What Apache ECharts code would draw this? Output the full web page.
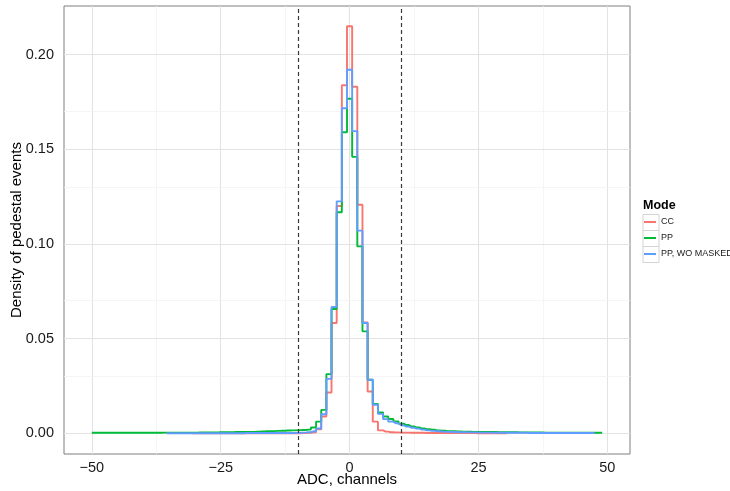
<!DOCTYPE html>
<html>
<head>
<meta charset="utf-8">
<script src="https://cdn.jsdelivr.net/npm/echarts@6/dist/echarts.min.js"></script>
<style>html,body{margin:0;padding:0;background:#fff;}#c{width:730px;height:491px;}</style>
</head>
<body>
<div id="c"></div>
<script>
// bin centres (ADC channels)
var bins = [-50,-49,-48,-47,-46,-45,-44,-43,-42,-41,
-40,-39,-38,-37,-36,-35,-34,-33,-32,-31,
-30,-29,-28,-27,-26,-25,-24,-23,-22,-21,
-20,-19,-18,-17,-16,-15,-14,-13,-12,-11,
-10,-9,-8,-7,-6,-5,-4,-3,-2,-1,
0,1,2,3,4,5,6,7,8,9,
10,11,12,13,14,15,16,17,18,19,
20,21,22,23,24,25,26,27,28,29,
30,31,32,33,34,35,36,37,38,39,
40,41,42,43,44,45,46,47,48,49];

var seriesNames = ['CC', 'PP', 'PP, WO MASKED'];

var ccValues = [null,null,null,null,null,null,null,null,null,null,
null,null,null,null,null,null,null,null,null,null,
0,0,0,0,0,0,0,0,0,0,
0,0,0,0,0,0,0,0,0,0,
0.0000,0.0001,0.0002,0.0005,0.0020,0.0088,0.0215,0.0582,0.1200,0.1838,
0.2150,0.1830,0.1207,0.0585,0.0220,0.0061,0.0015,0.0008,0.0005,0.0004,
0.0003,0.0003,0.0002,0.0002,0.0002,0.0001,0.0001,0.0001,0.0001,0.0001,
0.0001,0.0001,0.0001,0.0001,0.0001,0,0,0,0,0,
0,null,null,null,null,null,null,null,null,null,
null,null,null,null,null,null,null,null,null,null];

var ppValues = [0.0002,0.0002,0.0002,0.0002,0.0002,0.0002,0.0002,0.0002,0.0002,0.0002,
0.0002,0.0002,0.0002,0.0002,0.0003,0.0003,0.0003,0.0003,0.0003,0.0003,
0.0003,0.0004,0.0004,0.0004,0.0004,0.0005,0.0005,0.0005,0.0006,0.0006,
0.0007,0.0007,0.0008,0.0009,0.0010,0.0011,0.0012,0.0013,0.0014,0.0015,
0.0016,0.0017,0.0019,0.0030,0.0061,0.0123,0.0312,0.0656,0.1167,0.1590,
0.1767,0.1460,0.0987,0.0538,0.0282,0.0155,0.0110,0.0088,0.0075,0.0062,
0.0050,0.0043,0.0036,0.0030,0.0025,0.0021,0.0018,0.0015,0.0013,0.0011,
0.0010,0.0009,0.0008,0.0008,0.0007,0.0007,0.0006,0.0006,0.0006,0.0005,
0.0005,0.0005,0.0005,0.0004,0.0004,0.0004,0.0004,0.0004,0.0003,0.0003,
0.0003,0.0003,0.0003,0.0003,0.0002,0.0002,0.0002,0.0002,0.0002,0.0002];

var ppWoMaskedValues = [null,null,null,null,null,null,null,null,null,null,
null,null,null,null,null,0.0000,0.0000,0.0000,0.0000,0.0000,
0.0000,0.0000,0.0000,0.0000,0.0000,0.0000,0.0000,0.0000,0.0000,0.0000,
0.0001,0.0001,0.0001,0.0001,0.0001,0.0001,0.0001,0.0001,0.0001,0.0001,
0.0002,0.0003,0.0005,0.0010,0.0025,0.0100,0.0287,0.0667,0.1225,0.1717,
0.1920,0.1596,0.1070,0.0582,0.0282,0.0150,0.0102,0.0074,0.0061,0.0052,
0.0042,0.0035,0.0029,0.0024,0.0019,0.0015,0.0012,0.0010,0.0008,0.0007,
0.0006,0.0005,0.0005,0.0004,0.0004,0.0003,0.0003,0.0003,0.0002,0.0002,
0.0002,0.0002,0.0002,0.0002,0.0002,0.0001,0.0001,0.0001,0.0001,0.0001,
0.0001,0.0001,0.0001,0.0001,0.0001,0.0001,0.0001,0.0001,null,null];

var xTicks = [-50, -25, 0, 25, 50];
var xMinorGrid = [-37.5, -12.5, 12.5, 37.5];
var yTicks = [0, 0.05, 0.10, 0.15, 0.20];
var yMinorGrid = [0.025, 0.075, 0.125, 0.175, 0.225];
var cutLines = [-10, 10];

var colors = ['#F8766D', '#00BA38', '#619CFF'];

function pairs(vals) {
  return bins.map(function (b, i) { return [b, vals[i]]; });
}

var gridMarks = [];
xTicks.forEach(function (v) { gridMarks.push({ xAxis: v, lineStyle: { color: '#e3e3e3', width: 1.1, type: 'solid' } }); });
xMinorGrid.forEach(function (v) { gridMarks.push({ xAxis: v, lineStyle: { color: '#f2f2f2', width: 0.8, type: 'solid' } }); });
yTicks.forEach(function (v) { gridMarks.push({ yAxis: v, lineStyle: { color: '#e3e3e3', width: 1.1, type: 'solid' } }); });
yMinorGrid.forEach(function (v) { gridMarks.push({ yAxis: v, lineStyle: { color: '#f2f2f2', width: 0.8, type: 'solid' } }); });

var cutMarks = cutLines.map(function (v) {
  return { xAxis: v, lineStyle: { color: '#3a3a3a', width: 1.2, type: [4, 3] } };
});

function lineSeries(name, vals, color, z) {
  return {
    name: name, type: 'line', step: 'middle', symbol: 'none', showSymbol: false,
    data: pairs(vals), z: z, silent: true, animation: false,
    lineStyle: { color: color, width: 1.9 }, itemStyle: { color: color }
  };
}

var chart = echarts.init(document.getElementById('c'), null, { renderer: 'canvas' });
var font = 'Liberation Sans, Arial, Helvetica, sans-serif';
chart.setOption({
  animation: false,
  backgroundColor: '#ffffff',
  textStyle: { fontFamily: font },
  title: {
    text: 'Mode', left: 643, top: 199, padding: 0,
    textStyle: { fontSize: 12.5, fontWeight: 'bold', color: '#000', fontFamily: font }
  },
  legend: {
    orient: 'vertical', left: 644, top: 214, padding: 0,
    icon: 'rect', itemWidth: 12, itemHeight: 2, itemGap: 0,
    data: seriesNames,
    textStyle: { fontSize: 9, lineHeight: 16, height: 16, color: '#1a1a1a', fontFamily: font }
  },
  graphic: [0, 1, 2].map(function (i) {
    return { type: 'rect', left: 642.5, top: 214 + 16 * i, z: 0,
      shape: { width: 16, height: 16 }, style: { fill: '#fff', stroke: '#d4d4d4', lineWidth: 1 } };
  }),
  grid: {
    left: 64, right: 100, top: 6, bottom: 37, show: true, outerBoundsMode: 'none', containLabel: false,
    borderColor: '#7f7f7f', borderWidth: 1, backgroundColor: '#ffffff'
  },
  xAxis: {
    type: 'value', min: -55.4, max: 54.4,
    name: 'ADC, channels', nameLocation: 'middle', nameGap: 18, nameMoveOverlap: false,
    nameTextStyle: { fontSize: 15, color: '#000', fontFamily: font },
    axisLine: { show: false },
    axisTick: { show: true, length: 4, lineStyle: { color: '#555' }, customValues: xTicks },
    axisLabel: { fontSize: 14.5, color: '#1a1a1a', margin: 6, customValues: xTicks,
      formatter: function (v) { return v < 0 ? '\u2212' + Math.abs(v) : String(v); } },
    splitLine: { show: false }
  },
  yAxis: {
    type: 'value', min: -0.011, max: 0.2257,
    name: 'Density of pedestal events', nameLocation: 'middle', nameGap: 40, nameMoveOverlap: false,
    nameTextStyle: { fontSize: 15, color: '#000', fontFamily: font },
    axisLine: { show: false },
    axisTick: { show: true, length: 4, lineStyle: { color: '#555' }, customValues: yTicks },
    axisLabel: { fontSize: 14.5, color: '#1a1a1a', margin: 10, customValues: yTicks,
      formatter: function (v) { return v.toFixed(2); } },
    splitLine: { show: false }
  },
  series: [
    {
      name: 'grid', type: 'line', data: [], z: 1, silent: true,
      markLine: { silent: true, symbol: 'none', z: 1, label: { show: false }, animation: false, data: gridMarks }
    },
    lineSeries(seriesNames[0], ccValues, colors[0], 3),
    lineSeries(seriesNames[1], ppValues, colors[1], 4),
    lineSeries(seriesNames[2], ppWoMaskedValues, colors[2], 5),
    {
      name: 'cuts', type: 'line', data: [], z: 6, silent: true,
      markLine: { silent: true, symbol: 'none', z: 6, label: { show: false }, animation: false, data: cutMarks }
    }
  ]
});
</script>
</body>
</html>
